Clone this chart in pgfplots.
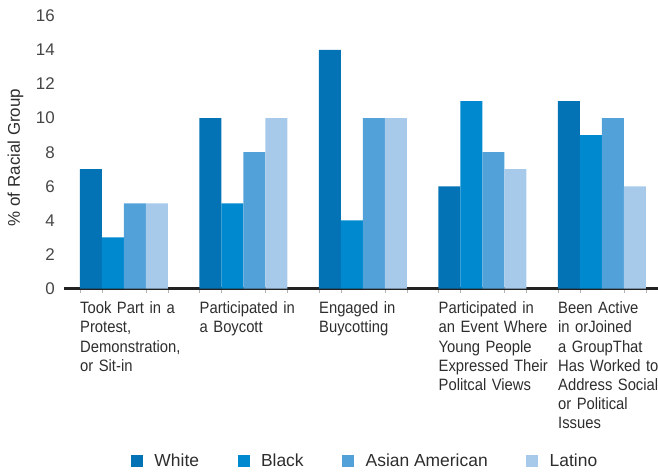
\documentclass[border=0pt]{standalone}
\usepackage{fontspec}
\setmainfont{Liberation Sans}
\newfontfamily\condfont{Liberation Sans}[FakeStretch=0.9]
\usepackage{pgfplots}
\pgfplotsset{compat=1.18}
\definecolor{cW}{RGB}{3,115,181}
\definecolor{cB}{RGB}{0,137,207}
\definecolor{cA}{RGB}{82,162,217}
\definecolor{cL}{RGB}{167,201,234}
\definecolor{txt}{RGB}{45,45,45}
\definecolor{tick}{RGB}{70,70,70}
\definecolor{axl}{RGB}{34,34,34}
\pgfplotsset{sq legend/.style={legend image code/.code={\fill[##1] (0bp,-6bp) rectangle (12bp,6bp);}}}
\begin{document}
\begin{tikzpicture}
\useasboundingbox (-64.25bp,-183.5bp) rectangle (593.75bp,288.5bp);
\begin{axis}[
  at={(0,0)}, anchor=south west,
  scale only axis, width=593.75bp, height=272.6bp,
  xmin=-0.5, xmax=4.469, ymin=0, ymax=16,
  enlargelimits=false,
  ybar=0pt, bar width=22bp,
  axis lines*=left,
  y axis line style={draw=none},
  x axis line style={line width=2.2bp, color=axl},
  ytick={0,2,...,16},
  ytick style={draw=none},
  /pgf/number format/assume math mode=true,
  yticklabel style={font=\fontsize{17}{20}\selectfont, text=tick, anchor=east, inner sep=0pt, xshift=-5bp},
  xtick={0,1,2,3,4},
  major x tick style={draw=none},
  minor xtick={-0.368,-0.184,0.184,0.368,0.632,0.816,1.184,1.368,1.632,1.816,2.184,2.368,2.632,2.816,3.184,3.368,3.632,3.816,4.184,4.368},
  minor x tick style={draw=gray!60, line width=0.8bp},
  minor tick length=4bp,
  tick align=outside,
  xtick pos=bottom,
  xticklabels={
    {Took Part in a\\Protest,\\Demonstration,\\or Sit-in},
    {Participated in\\a Boycott},
    {Engaged in\\Buycotting},
    {Participated in\\an Event Where\\Young People\\Expressed Their\\Politcal Views},
    {Been Active\\in orJoined\\a GroupThat\\Has Worked to\\Address Social\\or Political\\Issues}},
  xticklabel style={font=\condfont\fontsize{16.5}{19.2}\selectfont, text=txt, anchor=north west, xshift=-44bp, yshift=-9bp, text width=110bp, align=left, inner sep=0pt},
  every axis y label/.style={at={(axis description cs:-0.0821,0.4806)}, rotate=90, anchor=center, font=\fontsize{17}{20}\selectfont, text=txt},
  ylabel={\% of Racial Group},
  legend columns=4,
  legend style={draw=none, fill=none, inner sep=0pt, outer sep=0pt,
    at={(axis description cs:0,0)}, anchor=west, xshift=66.75bp, yshift=-172.5bp,
    font=\fontsize{17.5}{20}\selectfont, text=txt,
    /tikz/every odd column/.append style={column sep=9.5bp},
    /tikz/every even column/.append style={column sep=36.5bp}},
]
\addplot[fill=cW, draw=none, sq legend] coordinates {(0,7) (1,10) (2,14) (3,6) (4,11)};
\addplot[fill=cB, draw=none, sq legend] coordinates {(0,3) (1,5) (2,4) (3,11) (4,9)};
\addplot[fill=cA, draw=none, sq legend] coordinates {(0,5) (1,8) (2,10) (3,8) (4,10)};
\addplot[fill=cL, draw=none, sq legend] coordinates {(0,5) (1,10) (2,10) (3,7) (4,6)};
\legend{White, Black, Asian American, Latino}
\end{axis}
\end{tikzpicture}
\end{document}
